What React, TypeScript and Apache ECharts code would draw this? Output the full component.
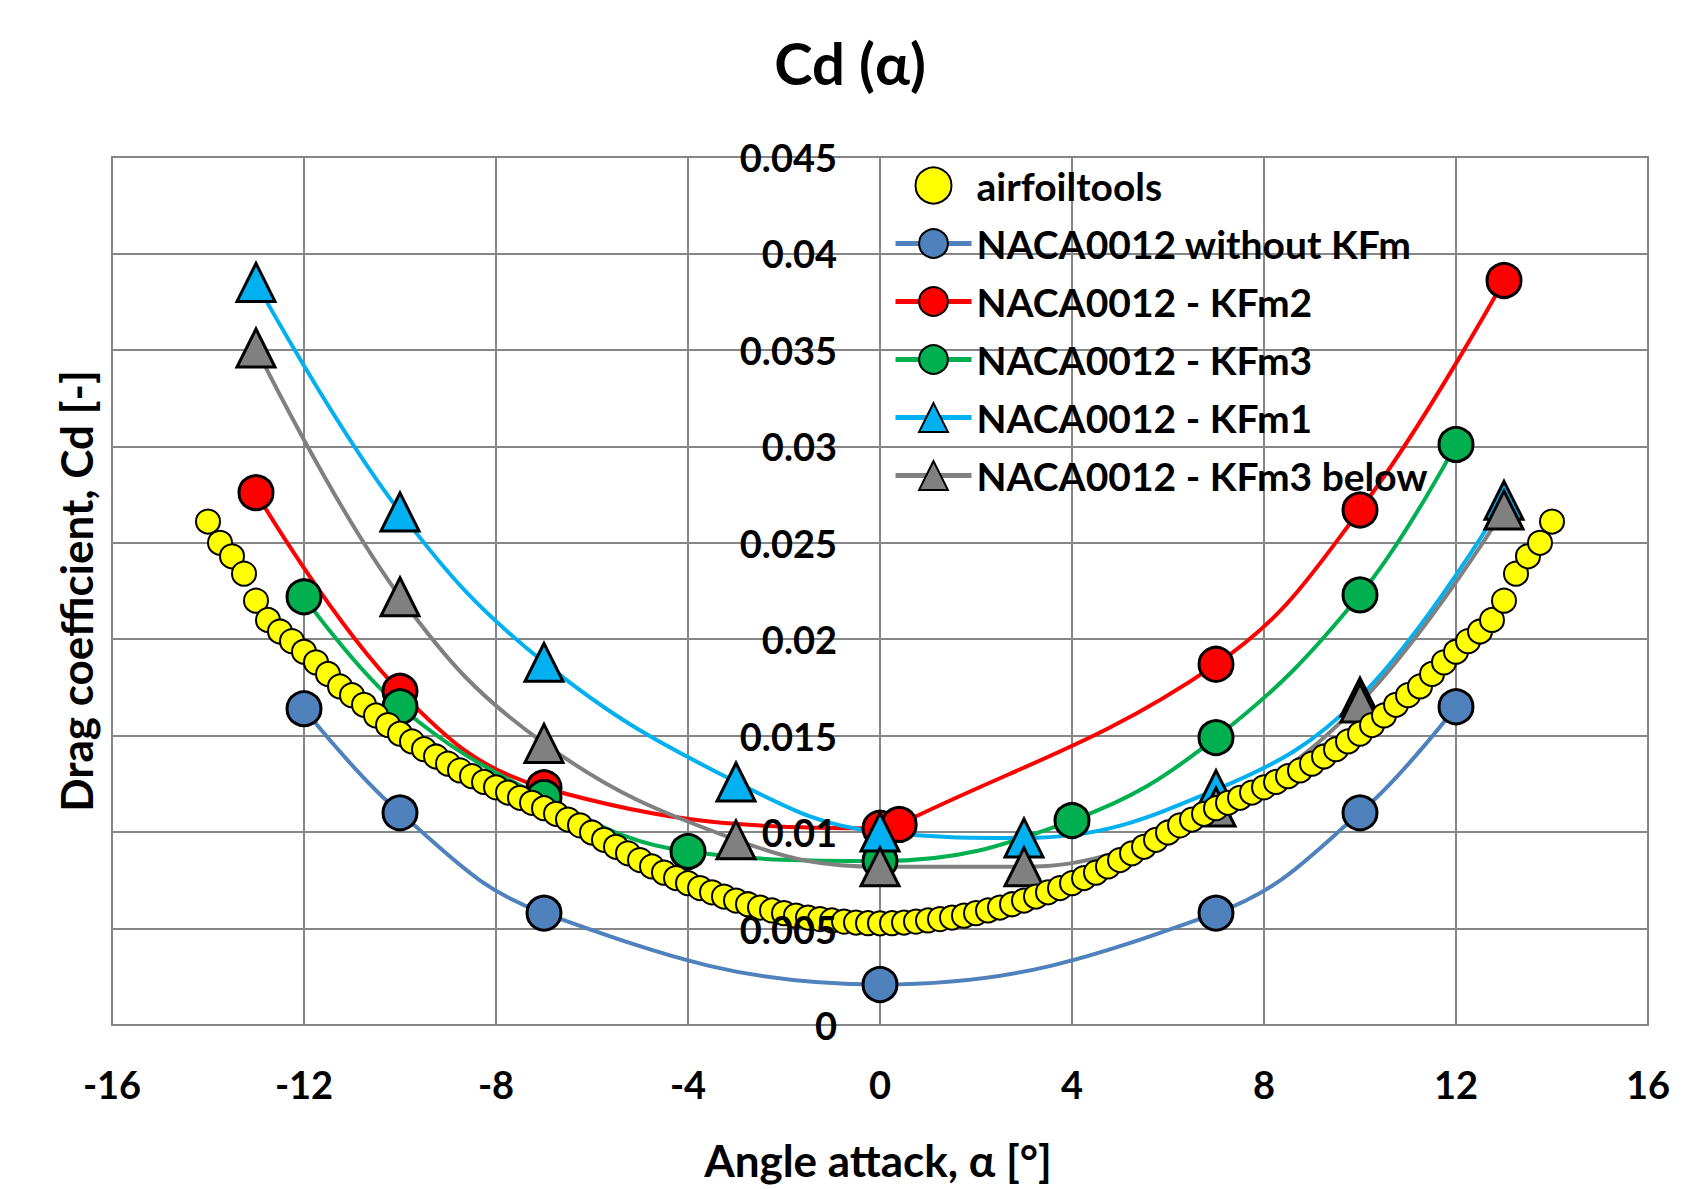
import React, { useEffect, useRef } from "react";
import * as echarts from "echarts";

const FONT = 'Lato, "Noto Sans", "DejaVu Sans", sans-serif';

const chartTitle = "Cd (α)";
const xTitle = "Angle attack, α [°]";
const yTitle = "Drag coefficient, Cd [-]";

const xMin = -16;
const xMax = 16;
const xStep = 4;
const yMin = 0;
const yMax = 0.045;
const yStep = 0.005;

const airfoilAlpha = [
  -14, -13.75, -13.5, -13.25, -13, -12.75, -12.5, -12.25, -12, -11.75, -11.5, -11.25, -11, -10.75, -10.5, -10.25,
  -10, -9.75, -9.5, -9.25, -9, -8.75, -8.5, -8.25, -8, -7.75, -7.5, -7.25, -7, -6.75, -6.5, -6.25,
  -6, -5.75, -5.5, -5.25, -5, -4.75, -4.5, -4.25, -4, -3.75, -3.5, -3.25, -3, -2.75, -2.5, -2.25,
  -2, -1.75, -1.5, -1.25, -1, -0.75, -0.5, -0.25, 0, 0.25, 0.5, 0.75, 1, 1.25, 1.5, 1.75,
  2, 2.25, 2.5, 2.75, 3, 3.25, 3.5, 3.75, 4, 4.25, 4.5, 4.75, 5, 5.25, 5.5, 5.75,
  6, 6.25, 6.5, 6.75, 7, 7.25, 7.5, 7.75, 8, 8.25, 8.5, 8.75, 9, 9.25, 9.5, 9.75,
  10, 10.25, 10.5, 10.75, 11, 11.25, 11.5, 11.75, 12, 12.25, 12.5, 12.75, 13, 13.25, 13.5, 13.75, 14,
];
const airfoilCd = [
  0.0261, 0.025, 0.0243, 0.0234, 0.022, 0.021, 0.0204, 0.0199, 0.01935, 0.0188, 0.0182, 0.01755, 0.0171, 0.0166, 0.01605, 0.01555,
  0.0151, 0.0147, 0.0143, 0.01392, 0.01355, 0.0132, 0.0129, 0.0126, 0.01232, 0.01205, 0.01178, 0.01152, 0.01124, 0.01095, 0.01065, 0.01035,
  0.00998, 0.0096, 0.00924, 0.0089, 0.00855, 0.00822, 0.0079, 0.00762, 0.00735, 0.0071, 0.00688, 0.00666, 0.00645, 0.00626, 0.00609, 0.00594,
  0.0058, 0.00567, 0.00557, 0.00549, 0.00542, 0.00536, 0.00531, 0.00528, 0.00527, 0.00528, 0.00531, 0.00536, 0.00542, 0.00549, 0.00557, 0.00567,
  0.0058, 0.00594, 0.00609, 0.00626, 0.00645, 0.00666, 0.00688, 0.0071, 0.00735, 0.00762, 0.0079, 0.00822, 0.00855, 0.0089, 0.00924, 0.0096,
  0.00998, 0.01035, 0.01065, 0.01095, 0.01124, 0.01152, 0.01178, 0.01205, 0.01232, 0.0126, 0.0129, 0.0132, 0.01355, 0.01392, 0.0143, 0.0147,
  0.0151, 0.01555, 0.01605, 0.0166, 0.0171, 0.01755, 0.0182, 0.0188, 0.01935, 0.0199, 0.0204, 0.021, 0.022, 0.0234, 0.0243, 0.025, 0.0261,
];

const baseAlpha = [-12, -10, -7, 0, 7, 10, 12];
const baseCd = [0.0164, 0.011, 0.0058, 0.0021, 0.0058, 0.011, 0.0165];

const kfm2Alpha = [-13, -10, -7, 0, 0.4, 7, 10, 13];
const kfm2Cd = [0.0276, 0.0173, 0.0123, 0.0102, 0.0104, 0.0187, 0.0267, 0.0386];

const kfm3Alpha = [-12, -10, -7, -4, 0, 4, 7, 10, 12];
const kfm3Cd = [0.0222, 0.0165, 0.0118, 0.009, 0.0085, 0.0106, 0.0149, 0.0223, 0.0301];

const kfm1Alpha = [-13, -10, -7, -3, 0, 3, 7, 10, 13];
const kfm1Cd = [0.0385, 0.0266, 0.0188, 0.0126, 0.01, 0.0097, 0.0122, 0.017, 0.0272];

const kfm3bAlpha = [-13, -10, -7, -3, 0, 3, 7, 10, 13];
const kfm3bCd = [0.0351, 0.0222, 0.0146, 0.0096, 0.0082, 0.0082, 0.0113, 0.0167, 0.0267];

const seriesNames = [
  "airfoiltools",
  "NACA0012 without KFm",
  "NACA0012 - KFm2",
  "NACA0012 - KFm3",
  "NACA0012 - KFm1",
  "NACA0012 - KFm3 below",
];

const pairs = (xs: number[], ys: number[]) => xs.map((x, i) => [x, ys[i]]);

const lineSeries = (
  name: string,
  xs: number[],
  ys: number[],
  color: string,
  symbol: string,
  size: number
) => ({
  name,
  type: "line",
  data: pairs(xs, ys),
  smooth: 0.4,
  symbol,
  symbolSize: size,
  showSymbol: true,
  z: 2,
  lineStyle: { color, width: 4 },
  itemStyle: { color, borderColor: "#000", borderWidth: 3 },
  emphasis: { disabled: true },
});

export default function App() {
  const ref = useRef<HTMLDivElement>(null);

  useEffect(() => {
    if (!ref.current) return;
    const chart = echarts.init(ref.current, undefined, { renderer: "svg" });
    const gridColor = "#868686";
    const gridLeft = 112;
    const gridRight = 52;
    const zeroX = 880;
    const labelStyle = {
      fontFamily: FONT,
      fontSize: 38,
      fontWeight: "bold" as const,
      color: "#000",
    };
    chart.setOption({
      animation: false,
      backgroundColor: "#fff",
      title: {
        text: chartTitle,
        left: "center",
        top: 28,
        textStyle: { fontFamily: FONT, fontSize: 58, fontWeight: "bold", color: "#000" },
      },
      grid: {
        left: gridLeft,
        right: gridRight,
        top: 157,
        bottom: 164,
        show: true,
        borderColor: gridColor,
        borderWidth: 2,
        containLabel: false,
        outerBoundsMode: "none",
      },
      legend: {
        orient: "vertical",
        left: 888,
        top: 160,
        itemWidth: 76,
        itemHeight: 36,
        itemGap: 17,
        data: seriesNames,
        lineStyle: { width: 5 },
        textStyle: { ...labelStyle, fontSize: 39, lineHeight: 41 },
      },
      xAxis: {
        type: "value",
        min: xMin,
        max: xMax,
        interval: xStep,
        axisLine: { show: true, onZero: false, lineStyle: { color: gridColor, width: 2 } },
        axisTick: { show: false },
        axisLabel: { ...labelStyle, margin: 40 },
        splitLine: { show: true, lineStyle: { color: gridColor, width: 2 } },
      },
      yAxis: [
        {
          type: "value",
          min: yMin,
          max: yMax,
          interval: yStep,
          position: "left",
          axisLine: { show: false, onZero: false },
          axisTick: { show: false },
          axisLabel: { show: false },
          splitLine: { show: true, lineStyle: { color: gridColor, width: 2 } },
        },
        {
          type: "value",
          min: yMin,
          max: yMax,
          interval: yStep,
          position: "left",
          offset: -(zeroX - gridLeft),
          z: 10,
          axisLine: { show: false, onZero: false },
          axisTick: { show: false },
          axisLabel: { ...labelStyle, margin: 43 },
          splitLine: { show: false },
        },
      ],
      graphic: [
        {
          type: "text",
          x: 878,
          y: 1160,
          style: {
            text: xTitle,
            fontFamily: FONT,
            fontSize: 44,
            fontWeight: "bold",
            fill: "#000",
            align: "center",
            verticalAlign: "middle",
          },
        },
        {
          type: "text",
          x: 76,
          y: 591,
          rotation: Math.PI / 2,
          style: {
            text: yTitle,
            fontFamily: FONT,
            fontSize: 44,
            fontWeight: "bold",
            fill: "#000",
            align: "center",
            verticalAlign: "middle",
          },
        },
      ],
      series: [
        {
          name: seriesNames[0],
          type: "scatter",
          data: pairs(airfoilAlpha, airfoilCd),
          symbol: "circle",
          symbolSize: 24,
          z: 3,
          itemStyle: { color: "#FFFF00", borderColor: "#000", borderWidth: 2, opacity: 1 },
          emphasis: { disabled: true },
        },
        lineSeries(seriesNames[1], baseAlpha, baseCd, "#4F81BD", "circle", 34),
        lineSeries(seriesNames[2], kfm2Alpha, kfm2Cd, "#FF0000", "circle", 34),
        lineSeries(seriesNames[3], kfm3Alpha, kfm3Cd, "#00B050", "circle", 34),
        lineSeries(seriesNames[4], kfm1Alpha, kfm1Cd, "#00B0F0", "triangle", 38),
        lineSeries(seriesNames[5], kfm3bAlpha, kfm3bCd, "#808080", "triangle", 38),
      ],
    });
    return () => chart.dispose();
  }, []);

  return (
    <div
      ref={ref}
      style={{ position: "absolute", left: 0, top: 0, width: 1700, height: 1189 }}
    />
  );
}
